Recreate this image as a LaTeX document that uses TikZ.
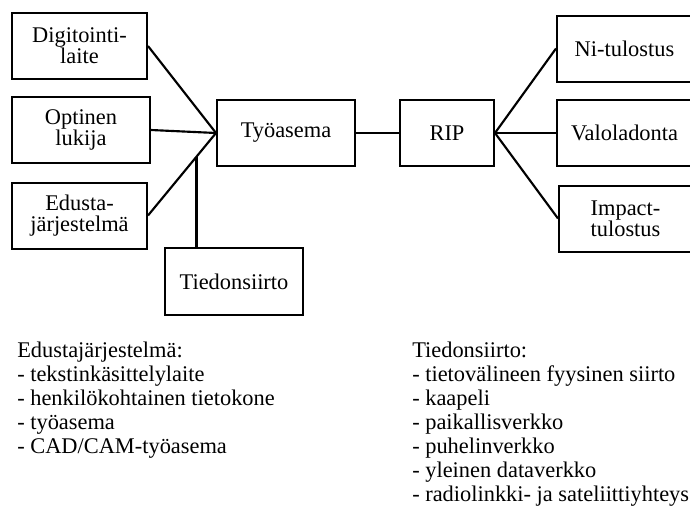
\documentclass[tikz,border=0pt]{standalone}
\usepackage{fontspec}
\setmainfont{Liberation Serif}
\usetikzlibrary{calc}
\begin{document}
\begin{tikzpicture}[x=0.75pt,y=-0.75pt,
  box/.style={draw,line width=1.5pt,minimum height=49.5pt,inner sep=0pt,
    align=center,font=\fontsize{16.8}{15.75}\selectfont},
  link/.style={line width=1.6pt},
  listtext/.style={align=left,anchor=north west,inner sep=0pt,
    font=\fontsize{16.8}{18}\selectfont}]
\useasboundingbox (0,0) rectangle (690,507);
% input devices
\node[box,minimum width=101.25pt] (dig) at (79.5,46) {Digitointi-\\laite};
\node[box,minimum width=103.5pt] (opt) at (81,130) {Optinen\\lukija};
\node[box,minimum width=101.25pt] (edu) at (79.5,215.5) {Edusta-\\järjestelmä};
% workstation and transfer
\node[box,minimum width=103.5pt] (tyo) at (286,133) {Työasema};
\node[box,minimum width=103.5pt,minimum height=50.25pt] (tied) at (234,281.5) {Tiedonsiirto};
% raster image processor
\node[box,minimum width=70.5pt] (rip) at (447,133) {RIP};
% output devices
\node[box,minimum width=101.25pt] (ni) at (624.5,48.5) {Ni-tulostus};
\node[box,minimum width=101.25pt] (valo) at (624.5,133) {Valoladonta};
\node[box,minimum width=99.75pt] (imp) at (625.5,218.5) {Impact-\\tulostus};
% connectors
\draw[link] (dig.east) -- (tyo.west);
\draw[link] (opt.east) -- (tyo.west);
\draw[link] (edu.east) -- (tyo.west);
\coordinate (j) at ($(edu.east)!0.714!(tyo.west)$);
\draw[link] (j) -- (j |- tied.north);
\draw[link] (tyo.east) -- (rip.west);
\draw[link] (rip.east) -- (ni.west);
\draw[link] (rip.east) -- (valo.west);
\draw[link] (rip.east) -- (imp.west);
% explanatory lists
\node[listtext] (edulist) at (17,342) {Edustajärjestelmä:\\
- tekstinkäsittelylaite\\
- henkilökohtainen tietokone\\
- työasema\\
- CAD/CAM-työasema};
\node[listtext] (tiedlist) at (412,342) {Tiedonsiirto:\\
- tietovälineen fyysinen siirto\\
- kaapeli\\
- paikallisverkko\\
- puhelinverkko\\
- yleinen dataverkko\\
- radiolinkki- ja sateliittiyhteys};
\end{tikzpicture}
\end{document}
